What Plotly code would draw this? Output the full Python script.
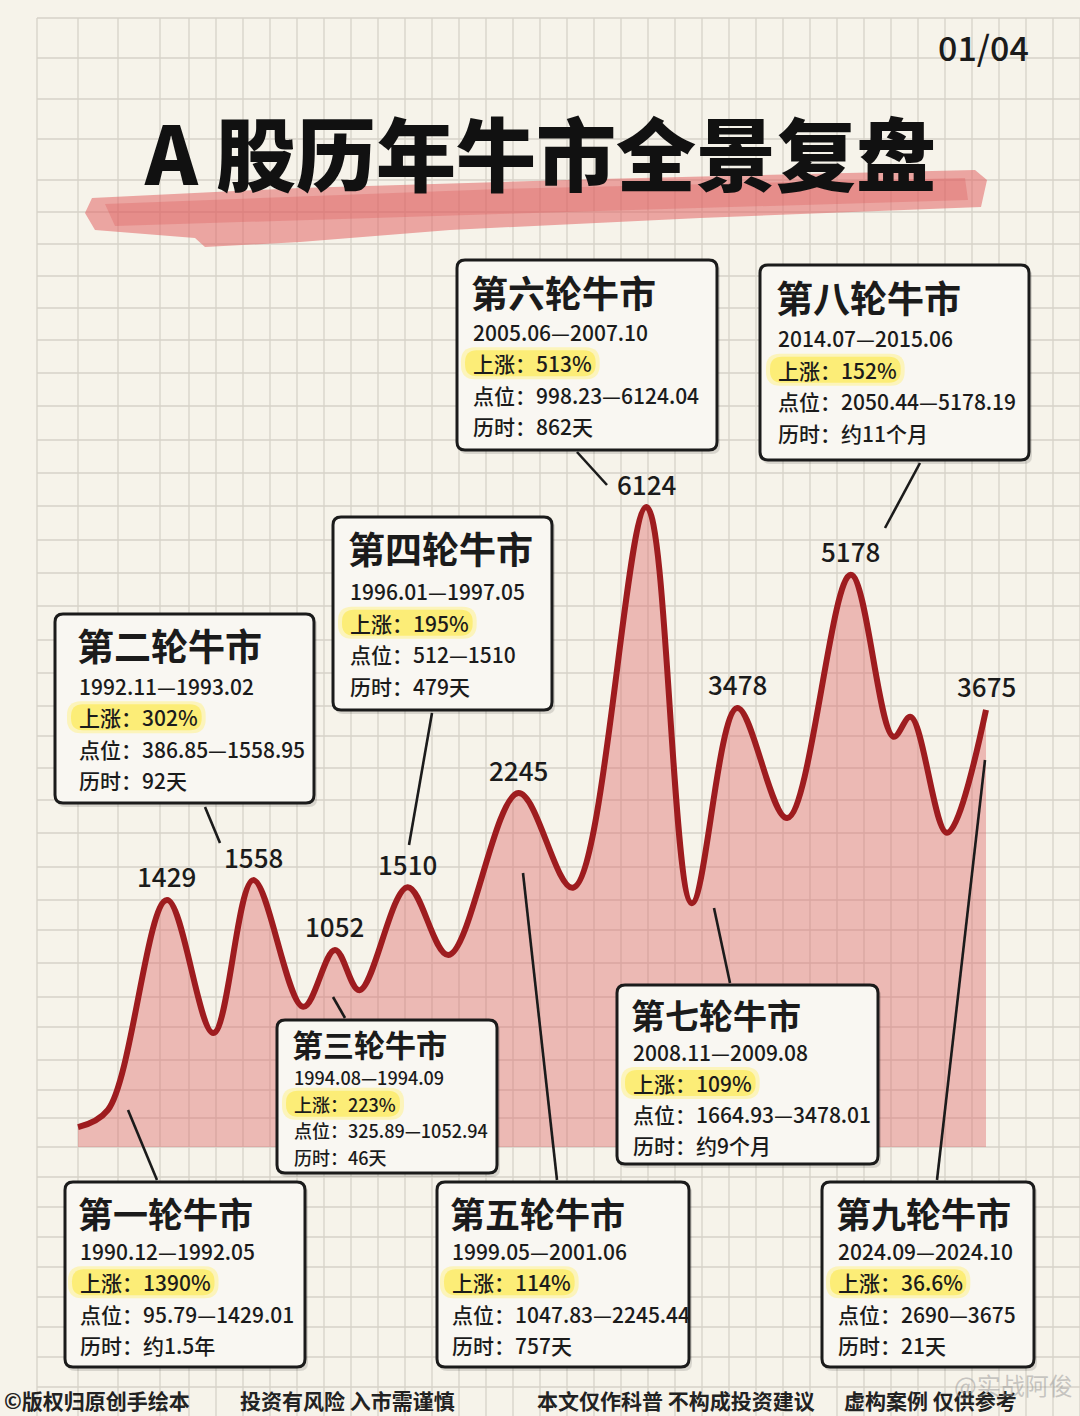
import plotly.graph_objects as go

W, H = 1080, 1416

# ---------------- data ----------------
curve_t = [0, 3.3, 9.8, 14.9, 19.3, 24.8, 28.3, 31.0, 36.3, 40.8, 48.5, 54.5,
           62.6, 67.6, 72.6, 78.1, 85.1, 89.8, 91.7, 95.7, 100]
curve_level = [3.1, 5.8, 38.6, 17.8, 41.7, 21.9, 30.8, 24.5, 40.6, 30.0, 55.3, 40.5,
               100, 38.1, 68.6, 51.4, 89.4, 64.1, 67.2, 49.1, 68.3]
peak_index = [2, 4, 6, 8, 10, 12, 14, 16, 20]
peak_values = [1429, 1558, 1052, 1510, 2245, 6124, 3478, 5178, 3675]

bull_titles = ["第一轮牛市", "第二轮牛市", "第三轮牛市", "第四轮牛市", "第五轮牛市",
               "第六轮牛市", "第七轮牛市", "第八轮牛市", "第九轮牛市"]
bull_periods = ["1990.12—1992.05", "1992.11—1993.02", "1994.08—1994.09",
                "1996.01—1997.05", "1999.05—2001.06", "2005.06—2007.10",
                "2008.11—2009.08", "2014.07—2015.06", "2024.09—2024.10"]
bull_gains = ["1390%", "302%", "223%", "195%", "114%", "513%", "109%", "152%", "36.6%"]
bull_points = ["95.79—1429.01", "386.85—1558.95", "325.89—1052.94", "512—1510",
               "1047.83—2245.44", "998.23—6124.04", "1664.93—3478.01",
               "2050.44—5178.19", "2690—3675"]
bull_durations = ["约1.5年", "92天", "46天", "479天", "757天", "862天",
                  "约9个月", "约11个月", "21天"]

title_text = "A 股历年牛市全景复盘"
page_text = "01/04"
footer_chunks = ["©版权归原创手绘本", "投资有风险 入市需谨慎", "本文仅作科普 不构成投资建议", "虚构案例 仅供参考"]
watermark = "@实战阿俊"

# ---------------- layout helpers (pixel -> paper) ----------------
FONT = "Noto Sans CJK SC"
INK = "#1b1b1b"
BG = "#f6f3ea"


def px(x):
    return x / W


def py(y):
    return 1 - y / H


def rrect(x0, y0, x1, y1, r):
    return (f"M {px(x0+r)},{py(y0)} L {px(x1-r)},{py(y0)} Q {px(x1)},{py(y0)} {px(x1)},{py(y0+r)} "
            f"L {px(x1)},{py(y1-r)} Q {px(x1)},{py(y1)} {px(x1-r)},{py(y1)} "
            f"L {px(x0+r)},{py(y1)} Q {px(x0)},{py(y1)} {px(x0)},{py(y1-r)} "
            f"L {px(x0)},{py(y0+r)} Q {px(x0)},{py(y0)} {px(x0+r)},{py(y0)} Z")


def poly(pts):
    return "M " + " L ".join(f"{px(a)},{py(b)}" for a, b in pts) + " Z"


def text_em(s):
    w = 0
    for c in s:
        if ord(c) > 0x2E80:
            w += 1.0
        elif c.isdigit():
            w += 0.565
        elif c == '.':
            w += 0.27
        elif c == '%':
            w += 0.86
        elif c == '—':
            w += 1.0
        else:
            w += 0.5
    return w


shapes = []
annotations = []

# grid
vx = [37, 78, 118, 160] + [189 + 27 * k for k in range(0, 35)]
hy = [18, 58, 99, 139, 180, 212, 244, 276, 308, 340, 373, 406, 440, 473, 506, 540,
      573, 606, 640, 673, 706, 736, 768, 800, 833, 867, 900, 930, 963, 997, 1027,
      1060, 1090, 1118, 1147, 1177, 1207, 1237, 1267, 1297, 1327, 1357, 1387]
for x in vx:
    if x <= W:
        shapes.append(dict(type="line", xref="paper", yref="paper", x0=px(x), x1=px(x),
                           y0=py(18), y1=py(H), line=dict(color="#d6d2c8", width=1.3), layer="below"))
for y in hy:
    shapes.append(dict(type="line", xref="paper", yref="paper", x0=px(37), x1=px(W),
                       y0=py(y), y1=py(y), line=dict(color="#d6d2c8", width=1.3), layer="below"))

# brush stroke under title
shapes.append(dict(type="path", xref="paper", yref="paper", layer="below",
                   path=poly([(92, 198), (300, 188), (600, 179), (975, 170), (987, 180), (981, 207),
                              (700, 218), (450, 230), (300, 242), (205, 247), (195, 238), (95, 230), (85, 213)]),
                   fillcolor="rgba(226,100,100,0.55)", line=dict(width=0)))
shapes.append(dict(type="path", xref="paper", yref="paper", layer="below",
                   path=poly([(105, 204), (500, 189), (965, 178), (968, 200), (500, 214), (115, 226)]),
                   fillcolor="rgba(220,85,85,0.3)", line=dict(width=0)))

# box layout
box_rects = [(65, 1182, 305, 1367), (55, 614, 314, 803), (277, 1020, 497, 1173),
             (333, 517, 552, 710), (437, 1182, 689, 1367), (457, 260, 717, 450),
             (617, 985, 878, 1164), (760, 265, 1029, 460), (822, 1182, 1034, 1367)]
box_text_x = [78, 77, 292, 348, 450, 471, 631, 776, 836]
box_title_y = [1212, 645, 1043, 548, 1212, 292, 1014, 297, 1212]
box_line_y0 = [1251, 686, 1077, 591, 1251, 332, 1052, 338, 1251]
box_line_gap = [31.3, 31.3, 26.7, 31.7, 31.3, 31.3, 31.0, 31.7, 31.3]
box_title_size = [35, 37, 31, 37, 35, 37, 34, 37, 35]
box_line_size = [21, 21, 18, 21, 21, 21, 21, 21, 21]
leaders = [((128, 1110), (157, 1180)), ((205, 807), (220, 843)), ((333, 997), (345, 1018)),
           ((432, 713), (409, 845)), ((523, 873), (557, 1180)), ((577, 452), (607, 485)),
           ((714, 908), (730, 983)), ((920, 463), (885, 528)), ((985, 760), (937, 1180))]

for (a, b) in leaders:
    shapes.append(dict(type="line", xref="paper", yref="paper", x0=px(a[0]), y0=py(a[1]),
                       x1=px(b[0]), y1=py(b[1]), line=dict(color=INK, width=2.6), layer="above"))

for i, (x0, y0, x1, y1) in enumerate(box_rects):
    shapes.append(dict(type="path", xref="paper", yref="paper", layer="above",
                       path=rrect(x0 + 2, y0 + 3, x1 + 3, y1 + 4, 8),
                       fillcolor="rgba(0,0,0,0.12)", line=dict(width=0)))
    shapes.append(dict(type="path", xref="paper", yref="paper", layer="above",
                       path=rrect(x0, y0, x1, y1, 8),
                       fillcolor="#f9f7f2", line=dict(color=INK, width=3)))
    tx = box_text_x[i]
    ls = box_line_size[i]
    gap = box_line_gap[i]
    ly = [box_line_y0[i] + gap * k for k in range(4)]
    gain_line = "上涨：" + bull_gains[i]
    gw = text_em(gain_line) * ls
    shapes.append(dict(type="path", xref="paper", yref="paper", layer="above",
                       path=rrect(tx - 10, ly[1] - 16, tx + gw + 12, ly[1] + 16, 14),
                       fillcolor="rgba(255,240,120,0.45)", line=dict(width=0)))
    shapes.append(dict(type="path", xref="paper", yref="paper", layer="above",
                       path=rrect(tx - 6, ly[1] - 13, tx + gw + 8, ly[1] + 13, 12),
                       fillcolor="rgba(252,234,90,0.7)", line=dict(width=0)))
    annotations.append(dict(x=px(tx - 2), y=py(box_title_y[i]), xref="paper", yref="paper",
                            text=bull_titles[i], showarrow=False, xanchor="left", yanchor="middle",
                            font=dict(family=FONT, size=box_title_size[i], color=INK, weight="bold")))
    lines = [bull_periods[i], gain_line, "点位：" + bull_points[i], "历时：" + bull_durations[i]]
    for k, t in enumerate(lines):
        annotations.append(dict(x=px(tx), y=py(ly[k]), xref="paper", yref="paper", text=t,
                                showarrow=False, xanchor="left", yanchor="middle",
                                font=dict(family=FONT, size=ls, color=INK, weight=500)))

# peak labels (data coordinates)
for idx, v in zip(peak_index, peak_values):
    annotations.append(dict(x=curve_t[idx], y=curve_level[idx], xref="x", yref="y", text=str(v),
                            showarrow=False, yshift=24, xanchor="center", yanchor="middle",
                            font=dict(family=FONT, size=26, color=INK, weight=500)))

# title, page number
annotations.append(dict(x=px(540), y=py(150), xref="paper", yref="paper", text=title_text,
                        showarrow=False, xanchor="center", yanchor="middle",
                        font=dict(family=FONT, size=80, color="#111111", weight=900)))
annotations.append(dict(x=px(983), y=py(47), xref="paper", yref="paper", text=page_text,
                        showarrow=False, xanchor="center", yanchor="middle",
                        font=dict(family=FONT, size=34, color=INK, weight=500)))

# footer
foot_x = [2, 238, 535, 842]
for fx, t in zip(foot_x, footer_chunks):
    annotations.append(dict(x=px(fx), y=py(1400), xref="paper", yref="paper", text=t,
                            showarrow=False, xanchor="left", yanchor="middle",
                            font=dict(family=FONT, size=21, color="#222222", weight="bold")))
annotations.append(dict(x=px(1075), y=py(1384), xref="paper", yref="paper", text=watermark,
                        showarrow=False, xanchor="right", yanchor="middle",
                        font=dict(family=FONT, size=24, color="rgba(150,150,150,0.5)")))

fig = go.Figure()
fig.add_trace(go.Scatter(x=curve_t, y=curve_level, mode="lines",
                         line=dict(color="#9e1c1f", width=6, shape="spline", smoothing=1.0),
                         fill="tozeroy", fillcolor="rgba(222,105,105,0.42)",
                         hoverinfo="skip", showlegend=False))

xs = 9.08
ys = 6.4
fig.update_layout(
    width=W, height=H, margin=dict(l=0, r=0, t=0, b=0),
    paper_bgcolor=BG, plot_bgcolor="rgba(0,0,0,0)",
    xaxis=dict(range=[-78 / xs, (W - 78) / xs], visible=False, fixedrange=True),
    yaxis=dict(range=[-(H - 1147) / ys, 1147 / ys], visible=False, fixedrange=True),
    shapes=shapes, annotations=annotations, showlegend=False,
)

fig.write_html("out.html")
